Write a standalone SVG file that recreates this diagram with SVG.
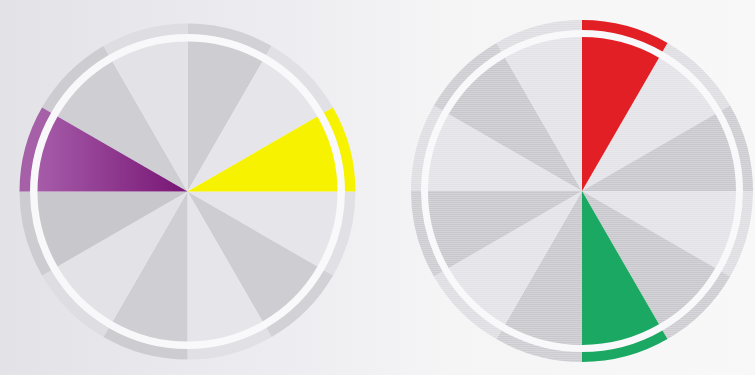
<svg xmlns="http://www.w3.org/2000/svg" xmlns:xlink="http://www.w3.org/1999/xlink" width="755" height="375" viewBox="0 0 755 375">
  <defs>
    <linearGradient id="bg" x1="0" y1="0" x2="1" y2="0">
      <stop offset="0" stop-color="#e3e2e6"/>
      <stop offset="0.4" stop-color="#eeedf1"/>
      <stop offset="0.6" stop-color="#f5f5f6"/>
      <stop offset="1" stop-color="#f8f8f8"/>
    </linearGradient>
    <linearGradient id="purple" gradientUnits="userSpaceOnUse" x1="-150" y1="0" x2="0" y2="0">
      <stop offset="0" stop-color="#a65ca9"/>
      <stop offset="1" stop-color="#771574"/>
    </linearGradient>
    <pattern id="hatch" width="4" height="2" patternUnits="userSpaceOnUse">
      <rect width="4" height="1" fill="#ffffff" opacity="0.35"/>
    </pattern>
    <path id="secL" d="M0,0 L0,-150 A150,150 0 0 1 75,-129.904 Z"/>
    <path id="ringL" d="M0,-168 A168,168 0 0 1 84,-145.492 L78.75,-136.399 A157.5,157.5 0 0 0 0,-157.5 Z"/>
    <path id="secR" d="M0,0 L0,-154 A154,154 0 0 1 77,-133.368 Z"/>
    <path id="ringR" d="M0,-171 A171,171 0 0 1 85.5,-148.090 L80.5,-139.430 A161,161 0 0 0 0,-161 Z"/>
  </defs>
  <style>
    .dk { fill: #c8c7cc; }
    .md { fill: #cfced3; }
    .lt { fill: #e3e2e7; }
    .rdk { fill: #cdccd1; }
    .rlt { fill: #dedde2; }
    .gap { fill: #f8f8fa; }
  </style>

  <rect width="755" height="375" fill="url(#bg)"/>

  <g id="wheel-left" transform="translate(187.5,191.5)">
    <circle class="gap" r="158"/>
    <use href="#secL" class="dk"/>
    <use href="#secL" class="lt" transform="rotate(30)"/>
    <use href="#secL" class="lt" transform="rotate(90)"/>
    <use href="#secL" class="dk" transform="rotate(120)"/>
    <use href="#secL" class="lt" transform="rotate(150)"/>
    <use href="#secL" class="md" transform="rotate(180)"/>
    <use href="#secL" class="lt" transform="rotate(210)"/>
    <use href="#secL" class="dk" transform="rotate(240)"/>
    <use href="#secL" class="md" transform="rotate(300)"/>
    <use href="#secL" class="lt" transform="rotate(330)"/>
    <use href="#ringL" class="rdk"/>
    <use href="#ringL" class="rlt" transform="rotate(30)"/>
    <use href="#ringL" class="rlt" transform="rotate(90)"/>
    <use href="#ringL" class="rdk" transform="rotate(120)"/>
    <use href="#ringL" class="rlt" transform="rotate(150)"/>
    <use href="#ringL" class="rdk" transform="rotate(180)"/>
    <use href="#ringL" class="rlt" transform="rotate(210)"/>
    <use href="#ringL" class="rdk" transform="rotate(240)"/>
    <use href="#ringL" class="rdk" transform="rotate(300)"/>
    <use href="#ringL" class="rlt" transform="rotate(330)"/>
    <path d="M0,-168 A168,168 0 0 1 0,168 Z" fill="url(#hatch)" opacity="0.6"/>
    <path id="yellow-sector" d="M0,0 L129.904,-75 A150,150 0 0 1 150,0 Z" fill="#f7f300"/>
    <path id="yellow-ring" d="M145.492,-84 A168,168 0 0 1 168,0 L157.5,0 A157.5,157.5 0 0 0 136.399,-78.75 Z" fill="#f7f300"/>
    <path id="purple-sector" d="M0,0 L-150,0 A150,150 0 0 1 -129.904,-75 Z" fill="url(#purple)"/>
    <path id="purple-ring" d="M-168,0 A168,168 0 0 1 -145.492,-84 L-136.399,-78.75 A157.5,157.5 0 0 0 -157.5,0 Z" fill="#a560a8"/>
  </g>

  <g id="wheel-right" transform="translate(582,191)">
    <circle class="gap" r="161"/>
    <use href="#secR" class="lt" transform="rotate(30)"/>
    <use href="#secR" class="dk" transform="rotate(60)"/>
    <use href="#secR" class="lt" transform="rotate(90)"/>
    <use href="#secR" class="dk" transform="rotate(120)"/>
    <use href="#secR" class="dk" transform="rotate(180)"/>
    <use href="#secR" class="lt" transform="rotate(210)"/>
    <use href="#secR" class="dk" transform="rotate(240)"/>
    <use href="#secR" class="lt" transform="rotate(270)"/>
    <use href="#secR" class="dk" transform="rotate(300)"/>
    <use href="#secR" class="lt" transform="rotate(330)"/>
    <use href="#ringR" class="rlt" transform="rotate(30)"/>
    <use href="#ringR" class="rdk" transform="rotate(60)"/>
    <use href="#ringR" class="rlt" transform="rotate(90)"/>
    <use href="#ringR" class="rdk" transform="rotate(120)"/>
    <use href="#ringR" class="rdk" transform="rotate(180)"/>
    <use href="#ringR" class="rlt" transform="rotate(210)"/>
    <use href="#ringR" class="rdk" transform="rotate(240)"/>
    <use href="#ringR" class="rlt" transform="rotate(270)"/>
    <use href="#ringR" class="rdk" transform="rotate(300)"/>
    <use href="#ringR" class="rlt" transform="rotate(330)"/>
    <circle r="171" fill="url(#hatch)" opacity="0.6"/>
    <path id="red-sector" d="M0,0 L0,-154 A154,154 0 0 1 77,-133.368 Z" fill="#e21f24"/>
    <path id="red-ring" d="M0,-171 A171,171 0 0 1 85.5,-148.090 L80.5,-139.430 A161,161 0 0 0 0,-161 Z" fill="#e21f24"/>
    <path id="green-sector" d="M0,0 L77,133.368 A154,154 0 0 1 0,154 Z" fill="#1aa862"/>
    <path id="green-ring" d="M85.5,148.090 A171,171 0 0 1 0,171 L0,161 A161,161 0 0 0 80.5,139.430 Z" fill="#1aa862"/>
  </g>
</svg>
